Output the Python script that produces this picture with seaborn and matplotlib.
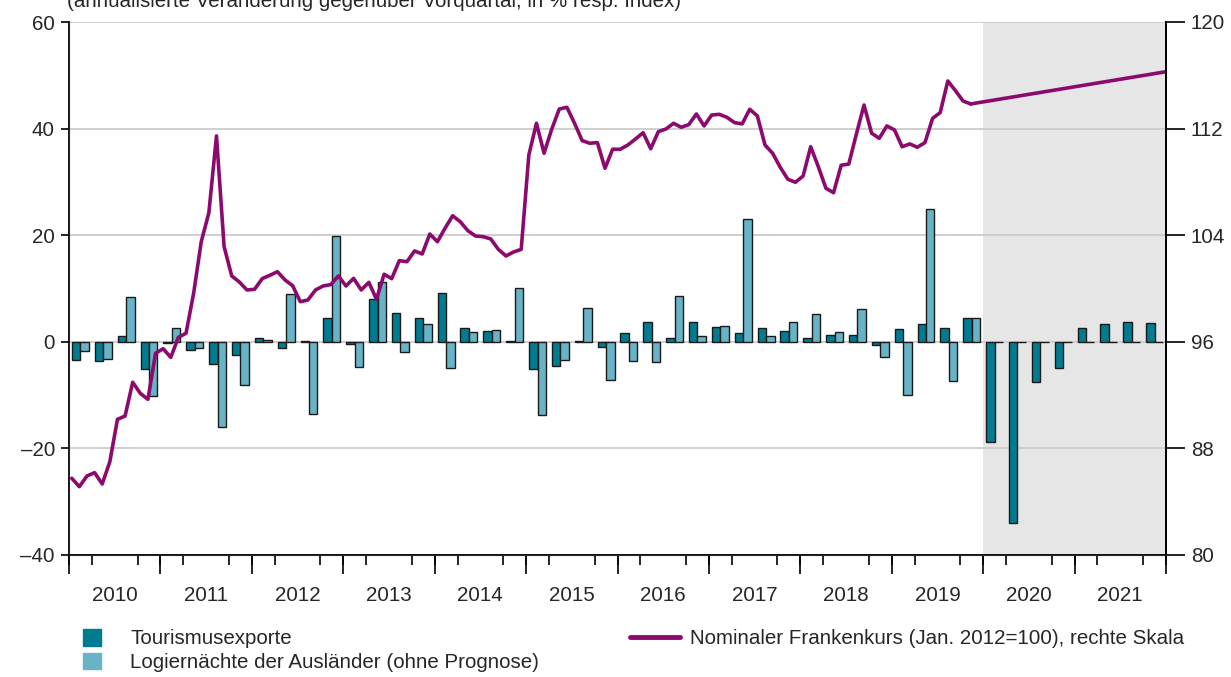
import numpy as np
import pandas as pd
import matplotlib.pyplot as plt
import seaborn as sns
from matplotlib.patches import Patch
from matplotlib.lines import Line2D
from matplotlib.ticker import FixedLocator

# quarterly data 2010Q1 - 2021Q4
years = list(range(2010, 2022))
quarters = [f"{y}Q{q}" for y in years for q in range(1, 5)]

tourism = [-3.4, -3.6, 1.0, -5.1,
           -0.2, -1.5, -4.2, -2.4,
           0.8, -1.2, 0.1, 4.4,
           -0.4, 8.0, 5.4, 4.4,
           9.1, 2.6, 2.1, 0.2,
           -5.1, -4.6, 0.2, -0.9,
           1.7, 3.7, 0.8, 3.8,
           2.7, 1.6, 2.6, 2.0,
           0.75, 1.3, 1.3, -0.6,
           2.4, 3.4, 2.5, 4.4,
           -18.8, -34.0, -7.6, -5.0,
           2.6, 3.4, 3.8, 3.6]

logier = [-1.8, -3.3, 8.4, -10.1,
          2.6, -1.2, -15.9, -8.1,
          0.3, 9.0, -13.6, 19.9,
          -4.7, 11.2, -2.0, 3.3,
          -4.9, 1.9, 2.3, 10.1,
          -13.8, -3.4, 6.4, -7.1,
          -3.6, -3.8, 8.6, 1.1,
          2.9, 23.1, 1.1, 3.8,
          5.3, 1.9, 6.1, -2.8,
          -9.9, 24.9, -7.4, 4.4,
          0, 0, 0, 0,
          0, 0, 0, 0]

# monthly franc index Jan 2010 - Nov 2019
franc = [85.76, 85.13, 85.93, 86.18, 85.33, 87.0, 90.18, 90.43, 92.96, 92.13, 91.68, 95.14,
         95.48, 94.83, 96.34, 96.64, 99.64, 103.51, 105.69, 111.45, 103.14, 100.94, 100.49, 99.89,
         99.94, 100.74, 100.99, 101.26, 100.64, 100.21, 99.01, 99.14, 99.89, 100.19, 100.29, 100.94,
         100.19, 100.76, 99.89, 100.46, 99.19, 101.07, 100.74, 102.09, 102.01, 102.82, 102.59, 104.09,
         103.51, 104.52, 105.46, 105.01, 104.34, 103.94, 103.89, 103.72, 102.94, 102.44, 102.74, 102.94,
         110.02, 112.40, 110.15, 111.95, 113.47, 113.60, 112.40, 111.10, 110.90, 110.95, 109.02, 110.45,
         110.45, 110.77, 111.22, 111.69, 110.49, 111.77, 111.97, 112.40, 112.10, 112.30, 113.10, 112.20,
         113.02, 113.07, 112.85, 112.45, 112.35, 113.45, 112.95, 110.77, 110.15, 109.10, 108.20, 107.97,
         108.44, 110.64, 109.14, 107.52, 107.19, 109.25, 109.34, 111.6, 113.77, 111.65, 111.27, 112.20,
         111.90, 110.64, 110.85, 110.60, 110.95, 112.77, 113.20, 115.57, 114.85, 114.07, 113.85]
franc_forecast = [113.85, 116.27]  # Nov 2019 -> end of 2021

dark = "#007b8f"
light = "#68b3c5"
purple = "#8c0a6e"
fs = 14.8

sns.set_style("white")
plt.rcParams['font.family'] = ['Liberation Sans', 'DejaVu Sans']
plt.rcParams['font.size'] = fs

lab_t = 'Tourismusexporte'
lab_l = 'Logiernächte der Ausländer (ohne Prognose)'
lab_f = 'Nominaler Frankenkurs (Jan. 2012=100), rechte Skala'

df = pd.DataFrame({
    'quarter': quarters * 2,
    'series': [lab_t] * len(quarters) + [lab_l] * len(quarters),
    'value': tourism + logier,
})

fig = plt.figure(figsize=(12.31, 6.77), dpi=100)
ax = fig.add_axes([69 / 1231, 1 - 555 / 677, (1166 - 69) / 1231, (555 - 22) / 677])

# forecast period
ax.axvspan(39.5, 47.5, color='#e6e6e6', lw=0, zorder=0)

sns.barplot(data=df, x='quarter', y='value', hue='series', order=quarters,
            palette=[dark, light], saturation=1, width=0.74, errorbar=None,
            edgecolor='#1a1a1a', linewidth=1, legend=False, ax=ax, zorder=2)

ax.set_xlim(-0.5, 47.5)
ax.set_ylim(-40, 60)
ax.set_yticks([-40, -20, 0, 20, 40, 60])
ax.set_yticklabels(['–40', '–20', '0', '20', '40', '60'])
ax.set_xlabel('')
ax.set_ylabel('')
ax.yaxis.grid(True, color='#cccccc', lw=1.3)
ax.xaxis.grid(False)
ax.set_axisbelow(True)

# year labels centred, quarter ticks + longer year ticks
ax.set_xticks([1.5 + 4 * k for k in range(len(years))], labels=[str(y) for y in years])
ax.tick_params(axis='x', which='major', length=0, pad=22, labelsize=fs, bottom=True)
ax.xaxis.set_minor_locator(FixedLocator(np.arange(-0.5, 48, 1)))
ax.tick_params(axis='x', which='minor', length=7.2, width=1.2, direction='out',
               color='black', bottom=True)
ax.tick_params(axis='y', length=5.8, width=1.2, direction='out', pad=4.3, labelsize=fs,
               color='black', left=True)
sec = ax.secondary_xaxis('bottom')
sec.set_xticks(np.arange(-0.5, 48, 4), labels=[])
sec.tick_params(length=13.7, width=1.2, color='black', bottom=True)
sec.spines['bottom'].set_visible(False)

for s in ['left', 'bottom', 'right']:
    ax.spines[s].set_color('black')
    ax.spines[s].set_linewidth(1.3)
ax.spines['top'].set_visible(False)

# franc index on right scale
ax2 = ax.twinx()
months = np.arange(len(franc))
ax2.plot(months / 3 - 0.38, franc, color=purple, lw=2.6)
ax2.plot([(len(franc) - 1) / 3 - 0.38, 47.5], franc_forecast, color=purple, lw=2.6)
ax2.set_ylim(80, 120)
ax2.set_yticks(range(80, 121, 8))
ax2.grid(False)
ax2.tick_params(axis='y', length=13.7, width=1.2, direction='out', pad=4.3, labelsize=fs,
                color='black', right=True)
ax2.spines['top'].set_visible(False)
ax2.spines['right'].set_color('black')
ax2.spines['right'].set_linewidth(1.3)
ax2.set_xlim(-0.5, 47.5)

fig.text(67 / 1231, 1 - 7 / 677, '(annualisierte Veränderung gegenüber Vorquartal, in % resp. Index)',
         va='baseline', ha='left', fontsize=fs)

fig.legend(handles=[Patch(color=dark), Patch(color=light)], labels=[lab_t, lab_l],
           loc='upper left', bbox_to_anchor=(83 / 1231, 1 - 629 / 677), frameon=False,
           borderpad=0, borderaxespad=0, handlelength=0.88, handleheight=0.88,
           handletextpad=1.42, labelspacing=0.2, fontsize=fs)
fig.legend(handles=[Line2D([], [], color=purple, lw=3.5)], labels=[lab_f],
           loc='upper left', bbox_to_anchor=(630 / 1231, 1 - 629 / 677), frameon=False,
           borderpad=0, borderaxespad=0, handlelength=2.45, handleheight=0.88,
           handletextpad=0.48, fontsize=fs)

fig.savefig('out.png', dpi=100)
